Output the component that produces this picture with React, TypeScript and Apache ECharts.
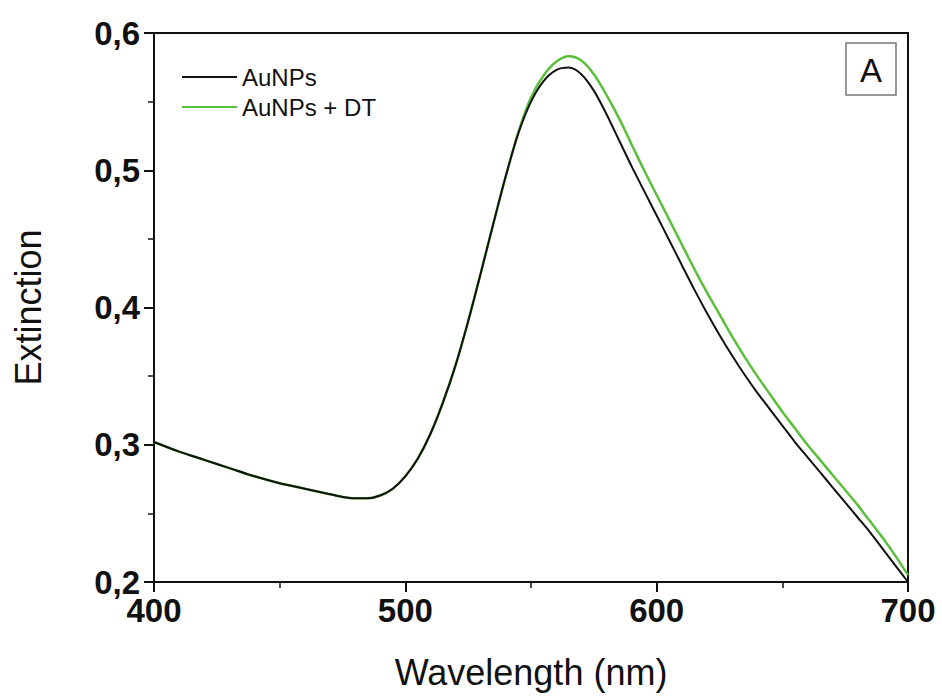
import React, { useEffect, useRef } from "react";
import * as echarts from "echarts";

// Wavelengths (nm)
const wavelengths = [
  400, 410, 420, 430, 440, 450, 460, 470, 475, 480, 485, 490, 495, 500, 505, 510,
  515, 520, 525, 530, 535, 540, 545, 550, 555, 560, 565, 570, 575, 580, 585, 590,
  595, 600, 605, 610, 615, 620, 625, 630, 635, 640, 645, 650, 655, 660, 665, 670,
  675, 680, 685, 690, 695, 700,
];

// Extinction, AuNPs (black)
const auNPs = [
  0.302, 0.295, 0.289, 0.283, 0.277, 0.272, 0.268, 0.264, 0.262, 0.261, 0.261, 0.263,
  0.268, 0.277, 0.29, 0.308, 0.331, 0.358, 0.39, 0.425, 0.461, 0.496, 0.527, 0.55,
  0.565, 0.573, 0.5748, 0.57, 0.558, 0.541, 0.522, 0.503, 0.485, 0.467, 0.449, 0.431,
  0.413, 0.396, 0.38, 0.365, 0.351, 0.338, 0.326, 0.314, 0.302, 0.291, 0.28, 0.269,
  0.258, 0.247, 0.236, 0.224, 0.212, 0.2,
];

// Extinction, AuNPs + DT (green)
const auNPsDT = [
  0.302, 0.295, 0.289, 0.283, 0.277, 0.272, 0.268, 0.264, 0.262, 0.261, 0.261, 0.263,
  0.268, 0.277, 0.29, 0.308, 0.331, 0.358, 0.39, 0.425, 0.461, 0.496, 0.528, 0.553,
  0.569, 0.579, 0.583, 0.58, 0.57, 0.555, 0.538, 0.519, 0.5, 0.482, 0.464, 0.446,
  0.428, 0.411, 0.395, 0.379, 0.364, 0.35, 0.337, 0.324, 0.312, 0.3, 0.289, 0.278,
  0.267, 0.256, 0.244, 0.232, 0.219, 0.205,
];

const seriesNames = ["AuNPs", "AuNPs + DT"];
const panelLabel = "A";
const xName = "Wavelength (nm)";
const yName = "Extinction";

const FONT = "'Liberation Sans', Arial, sans-serif";

export default function App() {
  const ref = useRef<HTMLDivElement>(null);

  useEffect(() => {
    if (!ref.current) return;
    const chart = echarts.init(ref.current, undefined, { renderer: "svg" });
    const toPairs = (vals: number[]) => wavelengths.map((w, i) => [w, vals[i]]);

    chart.setOption({
      animation: false,
      backgroundColor: "#fff",
      grid: {
        left: 154,
        right: 34,
        top: 33,
        bottom: 118,
        show: true,
        borderColor: "#111",
        borderWidth: 2,
        containLabel: false,
      },
      legend: {
        orient: "vertical",
        left: 177,
        top: 60,
        itemWidth: 55,
        itemHeight: 14,
        itemGap: 6,
        icon: "path://M0,0 L55,0 L55,2 L0,2 Z",
        data: [
          { name: seriesNames[0], itemStyle: { color: "#111" } },
          { name: seriesNames[1], itemStyle: { color: "#5cbf3c" } },
        ],
        textStyle: { fontFamily: FONT, fontSize: 24, color: "#111", padding: [0, 0, 0, 0] },
      },
      xAxis: {
        type: "value",
        min: 400,
        max: 700,
        interval: 100,
        name: xName,
        nameLocation: "middle",
        nameGap: 72,
        nameTextStyle: { fontFamily: FONT, fontSize: 36, color: "#111" },
        axisLine: { show: true, lineStyle: { color: "#111", width: 2 } },
        axisTick: { show: true, inside: false, length: 10, lineStyle: { color: "#111", width: 2 } },
        minorTick: { show: true, splitNumber: 2, length: 6, lineStyle: { color: "#111", width: 1.5 } },
        splitLine: { show: false },
        minorSplitLine: { show: false },
        axisLabel: {
          margin: 12,
          fontFamily: FONT,
          fontSize: 33,
          fontWeight: "bold",
          color: "#111",
        },
      },
      yAxis: {
        type: "value",
        min: 0.2,
        max: 0.6,
        interval: 0.1,
        name: yName,
        nameLocation: "middle",
        nameGap: 108,
        nameTextStyle: { fontFamily: FONT, fontSize: 36, color: "#111" },
        axisLine: { show: true, lineStyle: { color: "#111", width: 2 } },
        axisTick: { show: true, inside: false, length: 10, lineStyle: { color: "#111", width: 2 } },
        minorTick: { show: true, splitNumber: 2, length: 6, lineStyle: { color: "#111", width: 1.5 } },
        splitLine: { show: false },
        minorSplitLine: { show: false },
        axisLabel: {
          margin: 14,
          fontFamily: FONT,
          fontSize: 33,
          fontWeight: "bold",
          color: "#111",
          formatter: (v: number) => v.toFixed(1).replace(".", ","),
        },
      },
      series: [
        {
          name: seriesNames[0],
          type: "line",
          data: toPairs(auNPs),
          smooth: 0.3,
          showSymbol: false,
          symbol: "none",
          lineStyle: { color: "#111", width: 2 },
          itemStyle: { color: "#111" },
          z: 3,
        },
        {
          name: seriesNames[1],
          type: "line",
          data: toPairs(auNPsDT),
          smooth: 0.3,
          showSymbol: false,
          symbol: "none",
          lineStyle: { color: "#5cbf3c", width: 2.5 },
          itemStyle: { color: "#5cbf3c" },
          z: 2,
        },
      ],
      graphic: [
        {
          type: "rect",
          shape: { x: 846, y: 43, width: 50, height: 52 },
          style: { fill: "#fff", stroke: "#777", lineWidth: 1.5 },
          z: 10,
        },
        {
          type: "text",
          x: 871,
          y: 70,
          style: {
            text: panelLabel,
            fontFamily: FONT,
            fontSize: 33,
            fill: "#111",
            align: "center",
            verticalAlign: "middle",
          },
          z: 11,
        },
      ],
    });

    return () => chart.dispose();
  }, []);

  return (
    <div
      ref={ref}
      style={{ position: "fixed", left: 0, top: 0, width: 942, height: 700, background: "#fff" }}
    />
  );
}
